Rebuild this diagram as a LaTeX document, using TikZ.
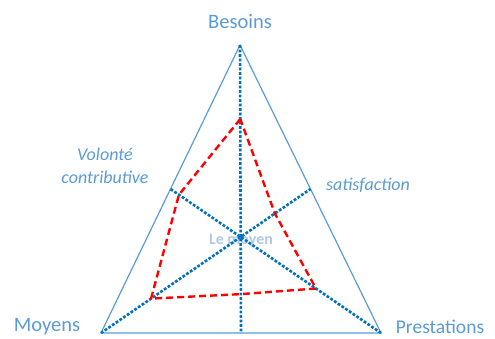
\documentclass[tikz,border=0pt]{standalone}
\usepackage{fontspec}
\setmainfont{Carlito}
\usetikzlibrary{calc}
\definecolor{triblue}{RGB}{91,155,213}
\definecolor{axisblue}{RGB}{0,112,192}
\definecolor{ghostblue}{RGB}{180,199,231}
\tikzset{
  pole/.style={text=triblue,inner sep=1pt,font=\fontsize{20.5}{24}\selectfont},
  facette/.style={text=triblue,font=\fontsize{18}{23}\selectfont\itshape,align=center},
  axe/.style={axisblue,line width=2.6pt,dash pattern=on 2.8pt off 1.7pt},
  profil/.style={red,line width=2.4pt,dash pattern=on 7pt off 4pt}
}
\begin{document}
\begin{tikzpicture}[x=1pt,y=-1pt]
  \useasboundingbox (0,0) rectangle (495,338);
  \coordinate (besoins) at (240,45);
  \coordinate (moyens) at (101,333);
  \coordinate (prestations) at (381,333);
  \coordinate (midbottom) at ($(moyens)!0.5!(prestations)$);
  \coordinate (midright) at ($(besoins)!0.5!(prestations)$);
  \coordinate (midleft) at ($(besoins)!0.5!(moyens)$);
  % centre label sits under the axes
  \node[text=ghostblue,font=\fontsize{16}{19}\selectfont\bfseries] (centre) at (241,241) {Le moyen};
  \draw[triblue,line width=1.2pt,line join=round] (besoins) -- (moyens) -- (prestations) -- cycle;
  \foreach \a/\b in {besoins/midbottom,moyens/midright,prestations/midleft} {
    \draw[axe] (\a) -- (\b);
  }
  \node[pole] (lbesoins) at (240,22) {Besoins};
  \node[pole] (lmoyens) at (47,327) {Moyens};
  \node[pole,font=\fontsize{19.5}{23}\selectfont] (lprestations) at (440,327) {Prestations};
  \node[facette] (lsatis) at (368,185) {satisfaction};
  \node[facette] (lvolonte) at (105,166) {Volonté\\contributive};
  % profile points on the axes
  \coordinate (p1) at ($(besoins)!0.257!(midbottom)$);
  \coordinate (p2) at ($(prestations)!0.96!(midleft)$);
  \coordinate (p3) at ($(moyens)!0.239!(midright)$);
  \coordinate (p4) at ($(besoins)!0.865!(midbottom)$);
  \coordinate (p5) at ($(prestations)!0.309!(midleft)$);
  \coordinate (p6) at ($(moyens)!0.83!(midright)$);
  \draw[profil,line join=round] (p1) -- (p2) -- (p3) -- (p4) -- (p5) -- (p6) -- cycle;
\end{tikzpicture}
\end{document}
